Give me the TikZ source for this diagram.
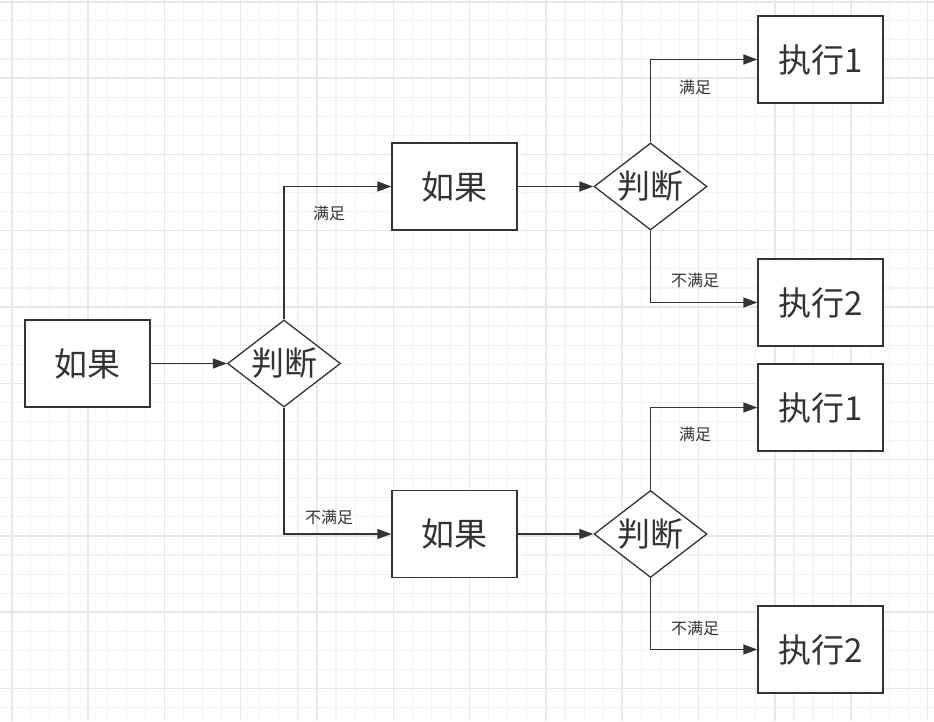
\documentclass[tikz,border=0pt]{standalone}
\usepackage{fontspec}
\newfontfamily\cjk{Noto Sans CJK SC}
\usetikzlibrary{shapes.geometric,arrows.meta}
\definecolor{ink}{HTML}{333333}
\definecolor{gminor}{HTML}{F3F3F3}
\definecolor{gmajor}{HTML}{E8E8E8}
\tikzset{
  box/.style={draw=ink, line width=1.3pt, fill=white, minimum width=125pt, minimum height=87pt, inner sep=0pt, font=\cjk\fontsize{33}{33}\selectfont, text=ink},
  dia/.style={draw=ink, line width=1.3pt, fill=white, diamond, aspect=1.29, minimum width=113pt, minimum height=87pt, inner sep=0pt, font=\cjk\fontsize{33}{33}\selectfont, text=ink},
  conn/.style={draw=ink, line width=1.3pt, -{Triangle[length=14pt,width=10pt]}},
  lbl/.style={font=\cjk\fontsize{16}{16}\selectfont, text=ink, inner sep=0pt},
  minorg/.style={draw=gminor, line width=1.2pt},
  majorg/.style={draw=gmajor, line width=1.6pt}
}
\begin{document}
\begin{tikzpicture}[x=1pt,y=-1pt]
\useasboundingbox (0,0) rectangle (934,721);
\fill[white] (0,0) rectangle (934,721);
\begin{scope}
\clip (0,0) rectangle (934,721);
\foreach \i in {-1,...,49} {
  \pgfmathsetmacro{\xx}{11.7+\i*19.08}
  \draw[minorg] (\xx,0) -- (\xx,721);
  \pgfmathsetmacro{\yy}{1.7+\i*19.08}
  \draw[minorg] (0,\yy) -- (934,\yy);
}
\foreach \i in {-1,...,13} {
  \pgfmathsetmacro{\xx}{11.7+\i*76.32}
  \draw[majorg] (\xx,0) -- (\xx,721);
  \pgfmathsetmacro{\yy}{1.7+\i*76.32}
  \draw[majorg] (0,\yy) -- (934,\yy);
}
\end{scope}

\node[box] (r0) at (87.5,363.5) {如果};
\node[dia] (d0) at (284,363.5) {判断};
\node[box] (rt) at (454.5,186.5) {如果};
\node[dia] (dt) at (650.5,186.5) {判断};
\node[box] (e1t) at (820.5,59.5) {执行1};
\node[box] (e2t) at (820.5,302.5) {执行2};
\node[box] (rb) at (454.5,534) {如果};
\node[dia] (db) at (650.5,534) {判断};
\node[box] (e1b) at (820.5,407.5) {执行1};
\node[box] (e2b) at (820.5,649.5) {执行2};

\draw[conn] (r0.east) -- (d0.west);
\draw[conn] (d0.north) |- (rt.west);
\draw[conn] (d0.south) |- (rb.west);
\draw[conn] (rt.east) -- (dt.west);
\draw[conn] (rb.east) -- (db.west);
\draw[conn] (dt.north) |- (e1t.west);
\draw[conn] (dt.south) |- (e2t.west);
\draw[conn] (db.north) |- (e1b.west);
\draw[conn] (db.south) |- (e2b.west);

\node[lbl] (l1) at (329,213) {满足};
\node[lbl] (l2) at (329,517) {不满足};
\node[lbl] (l3) at (695,87) {满足};
\node[lbl] (l4) at (695,280) {不满足};
\node[lbl] (l5) at (695,434) {满足};
\node[lbl] (l6) at (695,628) {不满足};
\end{tikzpicture}
\end{document}
